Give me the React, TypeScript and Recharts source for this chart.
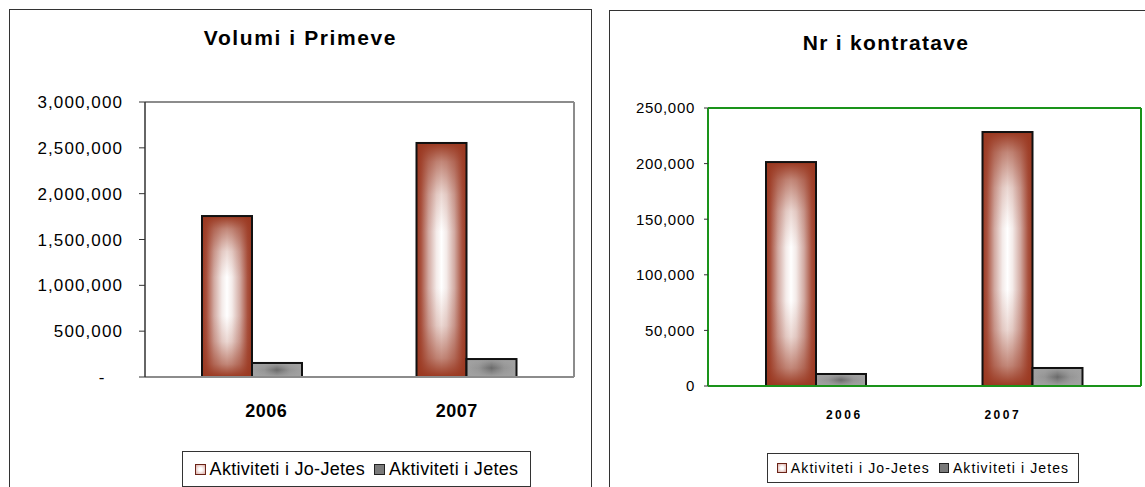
import { BarChart, Bar, XAxis, YAxis } from 'recharts';

const years = ['2006', '2007'];
const seriesNames = ['Aktiviteti i Jo-Jetes', 'Aktiviteti i Jetes'];

const primeveJoJetes = [1756000, 2553000];
const primeveJetes = [153000, 196000];
const primeveTicks = [0, 500000, 1000000, 1500000, 2000000, 2500000, 3000000];

const kontrataJoJetes = [201400, 228400];
const kontrataJetes = [10800, 16200];
const kontrataTicks = [0, 50000, 100000, 150000, 200000, 250000];

const primeveData = years.map((year, i) => ({ year, joJetes: primeveJoJetes[i], jetes: primeveJetes[i] }));
const kontrataData = years.map((year, i) => ({ year, joJetes: kontrataJoJetes[i], jetes: kontrataJetes[i] }));

const FONT = 'Arial, "Liberation Sans", sans-serif';
const RED = '#9a3820';

function Gradients({ id }: { id: string }) {
    return (
        <defs>
            <linearGradient id={`${id}-redH`} x1="0" y1="0" x2="1" y2="0">
                <stop offset="0%" stopColor={RED} />
                <stop offset="9%" stopColor="#a9523f" />
                <stop offset="24%" stopColor="#d2aaa2" />
                <stop offset="40%" stopColor="#f4ebe9" />
                <stop offset="50%" stopColor="#ffffff" />
                <stop offset="60%" stopColor="#f4ebe9" />
                <stop offset="76%" stopColor="#d2aaa2" />
                <stop offset="91%" stopColor="#a9523f" />
                <stop offset="100%" stopColor={RED} />
            </linearGradient>
            <linearGradient id={`${id}-redV`} x1="0" y1="0" x2="0" y2="1">
                <stop offset="0%" stopColor={RED} stopOpacity={1} />
                <stop offset="8%" stopColor={RED} stopOpacity={0.6} />
                <stop offset="22%" stopColor={RED} stopOpacity={0.2} />
                <stop offset="38%" stopColor={RED} stopOpacity={0} />
                <stop offset="62%" stopColor={RED} stopOpacity={0} />
                <stop offset="78%" stopColor={RED} stopOpacity={0.2} />
                <stop offset="92%" stopColor={RED} stopOpacity={0.6} />
                <stop offset="100%" stopColor={RED} stopOpacity={1} />
            </linearGradient>
            <linearGradient id={`${id}-grayH`} x1="0" y1="0" x2="1" y2="0">
                <stop offset="0%" stopColor="#a2a2a2" />
                <stop offset="25%" stopColor="#949494" />
                <stop offset="50%" stopColor="#6a6a6a" />
                <stop offset="75%" stopColor="#949494" />
                <stop offset="100%" stopColor="#a2a2a2" />
            </linearGradient>
            <linearGradient id={`${id}-grayV`} x1="0" y1="0" x2="0" y2="1">
                <stop offset="0%" stopColor="#a2a2a2" stopOpacity={1} />
                <stop offset="50%" stopColor="#a2a2a2" stopOpacity={0} />
                <stop offset="100%" stopColor="#a2a2a2" stopOpacity={1} />
            </linearGradient>
        </defs>
    );
}

// excel style "from center" fill: horizontal + vertical gradient stacked
const barShape = (id: string, kind: 'red' | 'gray') => (props: any) => {
    const { x, y, width, height } = props;
    if (!height || height <= 0) return <g />;
    return (
        <g>
            <rect x={x} y={y} width={width} height={height} fill={`url(#${id}-${kind}H)`} />
            <rect x={x} y={y} width={width} height={height} fill={`url(#${id}-${kind}V)`} />
            <rect x={x} y={y} width={width} height={height} fill="none" stroke="#111" strokeWidth={2} />
        </g>
    );
};

const yearTick = (shift: number[], size: number, spacing: number) => (props: any) => {
    const { x, y, payload, index } = props;
    return (
        <text
            x={x + (shift[index] || 0)}
            y={y}
            dy="0.71em"
            textAnchor="middle"
            fill="#000"
            fontFamily={FONT}
            fontWeight="bold"
            fontSize={size}
            letterSpacing={spacing}
        >
            {payload.value}
        </text>
    );
};

function LegendBox({ left, top, width, height, fontSize, spacing, gap, box }: any) {
    const marker = (fill: string, border: string) => (
        <span
            style={{
                display: 'inline-block',
                width: box,
                height: box,
                border: `1.5px solid ${border}`,
                background: fill,
                marginRight: 4,
            }}
        />
    );
    return (
        <div
            style={{
                position: 'absolute',
                left,
                top,
                width,
                height,
                boxSizing: 'border-box',
                border: '1px solid #333',
                background: '#fff',
                display: 'flex',
                alignItems: 'center',
                justifyContent: 'center',
                fontFamily: FONT,
                fontSize,
                letterSpacing: spacing,
                color: '#000',
                whiteSpace: 'nowrap',
            }}
        >
            {marker('radial-gradient(#fff 25%, #d9aaa2 100%)', '#6b2418')}
            <span style={{ marginRight: gap }}>{seriesNames[0]}</span>
            {marker('#7a7a7a', '#222')}
            <span>{seriesNames[1]}</span>
        </div>
    );
}

function PrimeveChart() {
    const id = 'prim';
    return (
        <div
            style={{
                position: 'absolute',
                left: 9,
                top: 9,
                width: 583,
                height: 490,
                boxSizing: 'border-box',
                border: '1px solid #333',
                background: '#fff',
            }}
        >
            <div
                style={{
                    position: 'absolute',
                    left: 0,
                    top: 16,
                    width: 581,
                    textAlign: 'center',
                    fontFamily: FONT,
                    fontWeight: 'bold',
                    fontSize: 21,
                    letterSpacing: 1.6,
                    lineHeight: '24px',
                }}
            >
                Volumi i Primeve
            </div>
            <BarChart
                width={581}
                height={478}
                data={primeveData}
                margin={{ top: 91, right: 16, left: 0, bottom: 71 }}
                barGap={0}
            >
                <Gradients id={id} />
                <XAxis
                    dataKey="year"
                    height={40}
                    axisLine={{ stroke: '#8c8c8c', strokeWidth: 2 }}
                    tickLine={false}
                    tickSize={0}
                    tickMargin={27}
                    tick={yearTick([14, -10], 18, 0.5)}
                />
                <XAxis xAxisId="top" dataKey="year" orientation="top" height={1} tick={false} tickLine={false} axisLine={{ stroke: '#8c8c8c', strokeWidth: 2 }} />
                <YAxis
                    width={135}
                    domain={[0, 3000000]}
                    ticks={primeveTicks}
                    interval={0}
                    axisLine={{ stroke: '#333', strokeWidth: 1.5 }}
                    tickLine={{ stroke: '#333' }}
                    tickSize={6}
                    tickMargin={16}
                    tickFormatter={(v: number) => (v === 0 ? '-\u00a0\u00a0\u00a0' : v.toLocaleString('en-US'))}
                    tick={{ fill: '#000', fontFamily: FONT, fontSize: 17, letterSpacing: 1.1 }}
                />
                <YAxis yAxisId="right" orientation="right" width={1} domain={[0, 1]} tick={false} tickLine={false} axisLine={{ stroke: '#8c8c8c', strokeWidth: 2 }} />
                <Bar dataKey="joJetes" name={seriesNames[0]} barSize={50} shape={barShape(id, 'red')} isAnimationActive={false} />
                <Bar dataKey="jetes" name={seriesNames[1]} barSize={50} shape={barShape(id, 'gray')} isAnimationActive={false} />
            </BarChart>
            <LegendBox left={172} top={441} width={349} height={36} fontSize={18} spacing={0.3} gap={9} box={9} />
        </div>
    );
}

function KontrataChart() {
    const id = 'kont';
    return (
        <div
            style={{
                position: 'absolute',
                left: 609,
                top: 10,
                width: 545,
                height: 490,
                boxSizing: 'border-box',
                border: '1px solid #333',
                background: '#fff',
            }}
        >
            <div
                style={{
                    position: 'absolute',
                    left: 0,
                    top: 20,
                    width: 552,
                    textAlign: 'center',
                    fontFamily: FONT,
                    fontWeight: 'bold',
                    fontSize: 21,
                    letterSpacing: 1.3,
                    lineHeight: '24px',
                }}
            >
                Nr i kontratave
            </div>
            <BarChart
                width={543}
                height={476}
                data={kontrataData}
                margin={{ top: 96, right: 11, left: 0, bottom: 61 }}
                barGap={0}
            >
                <Gradients id={id} />
                <XAxis
                    dataKey="year"
                    height={40}
                    axisLine={{ stroke: '#1a931a', strokeWidth: 2 }}
                    tickLine={false}
                    tickSize={0}
                    tickMargin={24}
                    tick={yearTick([28, -30], 12, 2.5)}
                />
                <XAxis xAxisId="top" dataKey="year" orientation="top" height={1} tick={false} tickLine={false} axisLine={{ stroke: '#1a931a', strokeWidth: 2 }} />
                <YAxis
                    width={98}
                    domain={[0, 250000]}
                    ticks={kontrataTicks}
                    interval={0}
                    axisLine={{ stroke: '#1a931a', strokeWidth: 2 }}
                    tickLine={{ stroke: '#333' }}
                    tickSize={4}
                    tickMargin={9}
                    tickFormatter={(v: number) => v.toLocaleString('en-US')}
                    tick={{ fill: '#000', fontFamily: FONT, fontSize: 15, letterSpacing: 0.7 }}
                />
                <YAxis yAxisId="right" orientation="right" width={1} domain={[0, 1]} tick={false} tickLine={false} axisLine={{ stroke: '#1a931a', strokeWidth: 2 }} />
                <Bar dataKey="joJetes" name={seriesNames[0]} barSize={50} shape={barShape(id, 'red')} isAnimationActive={false} />
                <Bar dataKey="jetes" name={seriesNames[1]} barSize={50} shape={barShape(id, 'gray')} isAnimationActive={false} />
            </BarChart>
            <LegendBox left={157} top={442} width={312} height={30} fontSize={14} spacing={1.1} gap={9} box={8} />
        </div>
    );
}

export default function App() {
    return (
        <div style={{ position: 'fixed', left: 0, top: 0, width: 1145, height: 487, overflow: 'hidden', background: '#fff' }}>
            <PrimeveChart />
            <KontrataChart />
        </div>
    );
}
